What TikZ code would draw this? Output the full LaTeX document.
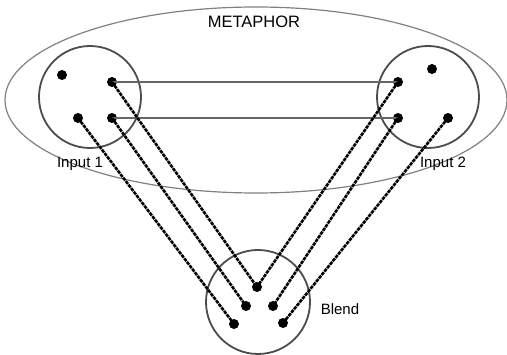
\documentclass[tikz,border=0pt]{standalone}
\usepackage{fontspec}
\setmainfont{Liberation Sans}
\begin{document}
\begin{tikzpicture}[x=1pt,y=-1pt,
  space/.style={draw=black!70,line width=1.8pt},
  frame/.style={draw=black!50,line width=1.2pt},
  dotnode/.style={circle,fill=black,inner sep=0pt,minimum size=10pt},
  mapline/.style={draw=black!60,line width=2pt},
  blendline/.style={draw=black,line width=2.6pt,dash pattern=on 3.5pt off 0.9pt},
  lbl/.style={font=\fontsize{15}{15}\selectfont,inner sep=0pt}]
\useasboundingbox (0,0) rectangle (507,355);
\draw[frame] (256,100) ellipse [x radius=251,y radius=93];
\node[lbl,font=\fontsize{16.5}{16.5}\selectfont] (meta) at (254,22) {METAPHOR};
% circles
\draw[space] (90,97) circle [radius=51];
\draw[space] (428,97) circle [radius=51];
\draw[space] (258,302) circle [radius=52];
\node[lbl] (in1) at (80,164) {Input 1};
\node[lbl] (in2) at (443,164) {Input 2};
\node[lbl] (bl) at (340,309) {Blend};
% dots input 1
\node[dotnode] (a1) at (62,75) {};
\node[dotnode] (a2) at (112,82) {};
\node[dotnode] (a3) at (78,118) {};
\node[dotnode] (a4) at (112,118) {};
% dots input 2
\node[dotnode] (b1) at (432,69) {};
\node[dotnode] (b2) at (398,82) {};
\node[dotnode] (b3) at (398,118) {};
\node[dotnode] (b4) at (448,118) {};
% blend dots
\node[dotnode] (c1) at (257,287) {};
\node[dotnode] (c2) at (246,306) {};
\node[dotnode] (c3) at (273,306) {};
\node[dotnode] (c4) at (234,324) {};
\node[dotnode] (c5) at (283,323) {};
% connectors
\draw[mapline] (a2.center) -- (b2.center);
\draw[mapline] (a4.center) -- (b3.center);
\draw[blendline] (a2.center) -- (c1.center);
\draw[blendline] (a4.center) -- (c2.center);
\draw[blendline] (a3.center) -- (c4.center);
\draw[blendline] (b2.center) -- (c1.center);
\draw[blendline] (b3.center) -- (c3.center);
\draw[blendline] (b4.center) -- (c5.center);
\end{tikzpicture}
\end{document}
